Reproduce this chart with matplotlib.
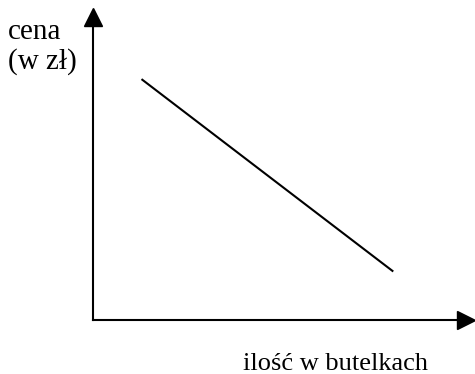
import matplotlib.pyplot as plt

# demand line: quantity (bottles) vs price (zl), arbitrary units
ilosc = [1.3, 8.05]
cena = [7.95, 1.6]

y_label = ["cena", "(w zł)"]
x_label = "ilość w butelkach"

W, H = 475, 374
fig = plt.figure(figsize=(W / 100, H / 100), dpi=100)

# axes box in pixels: left 93, right 466, bottom 320, top 17
ax = fig.add_axes([93 / W, (H - 320) / H, (466 - 93) / W, (320 - 17) / H])
ax.set_xlim(0, 10)
ax.set_ylim(0, 10)
ax.patch.set_visible(False)

for s in ["top", "right"]:
    ax.spines[s].set_visible(False)
for s in ["left", "bottom"]:
    ax.spines[s].set_linewidth(1.5)
ax.set_xticks([])
ax.set_yticks([])

# arrow heads at the axis ends
ax.plot(1, 0, ">k", ms=13.5, transform=ax.transAxes, clip_on=False)
ax.plot(0, 1, "^k", ms=13.5, transform=ax.transAxes, clip_on=False)

ax.plot(ilosc, cena, color="black", lw=1.5, solid_capstyle="butt")

font = dict(family="Liberation Serif", color="black")
fig.text(8 / W, 1 - 39 / H, y_label[0], va="baseline", ha="left", size=21, **font)
fig.text(8 / W, 1 - 69 / H, y_label[1], va="baseline", ha="left", size=21, **font)
fig.text(243 / W, 1 - 370 / H, x_label, va="baseline", ha="left", size=19, **font)

plt.savefig("out.png", dpi=100)
